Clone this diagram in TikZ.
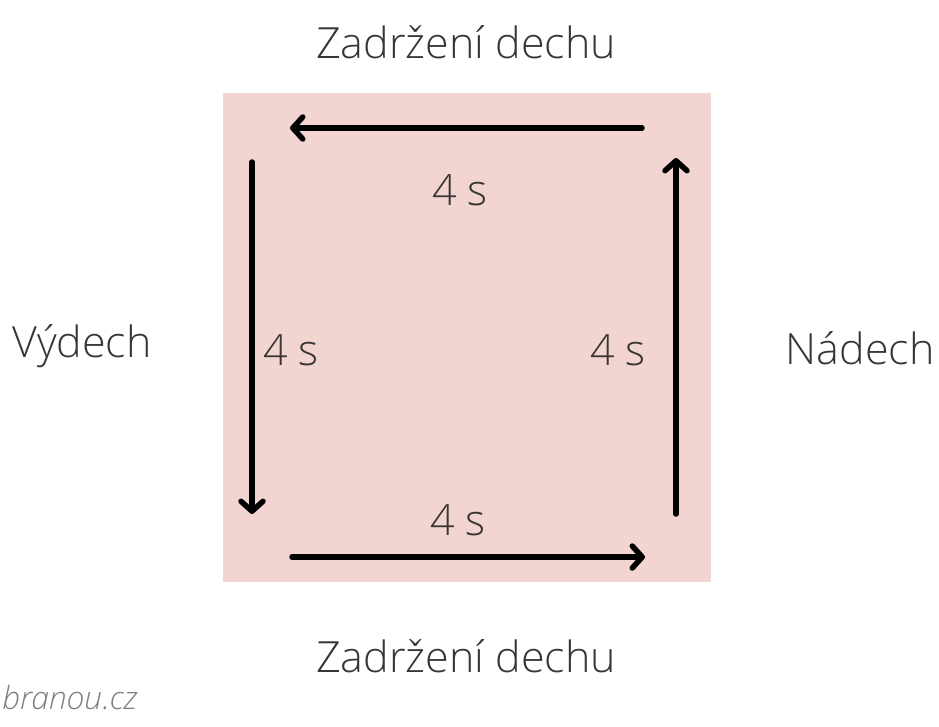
\documentclass[tikz,border=0pt]{standalone}
\usepackage{fontspec}
\setmainfont{Open Sans Light}
\usetikzlibrary{arrows.meta}
\definecolor{squarepink}{HTML}{F2D5D0}
\definecolor{textgray}{HTML}{3A3535}
\tikzset{
    breath/.style={line width=5.5pt, line cap=round, -{Straight Barb[round, length=10pt, width=22pt, line width=5.5pt]}},
    label/.style={text=textgray, font=\fontsize{43}{46}\selectfont, inner sep=0pt}
}
\begin{document}
\begin{tikzpicture}[x=1pt, y=-1pt]
            \useasboundingbox (0,0) rectangle (939,727);
            \fill [squarepink] (223,93) rectangle (711,582);
            \coordinate (tr) at (642,128);
            \coordinate (tl) at (290,128);
            \coordinate (rb) at (676,514);
            \coordinate (rt) at (676,158);
            \coordinate (lt) at (252,162);
            \coordinate (lb) at (252,514);
            \coordinate (bl) at (292,557);
            \coordinate (br) at (645,557);
            \draw [breath] (tr) -- (tl);
            \draw [breath] (rb) -- (rt);
            \draw [breath] (lt) -- (lb);
            \draw [breath] (bl) -- (br);
            \node [label] (hold1) at (466,42) {Zadržení dechu};
            \node [label] (hold2) at (466,656) {Zadržení dechu};
            \node [label] (out) at (82,346) {Výdech};
            \node [label] (in) at (860,348) {Nádech};
            \foreach [count = \i] \p in {(460,190),(291,350),(618,350),(458,520)}
            \node [label] (time\i) at \p {4 s};
            \node [text=gray, font=\fontsize{32}{34}\selectfont\itshape, anchor=west, inner sep=0pt] (logo) at (2,697) {branou.cz};
        \end{tikzpicture}
\end{document}
